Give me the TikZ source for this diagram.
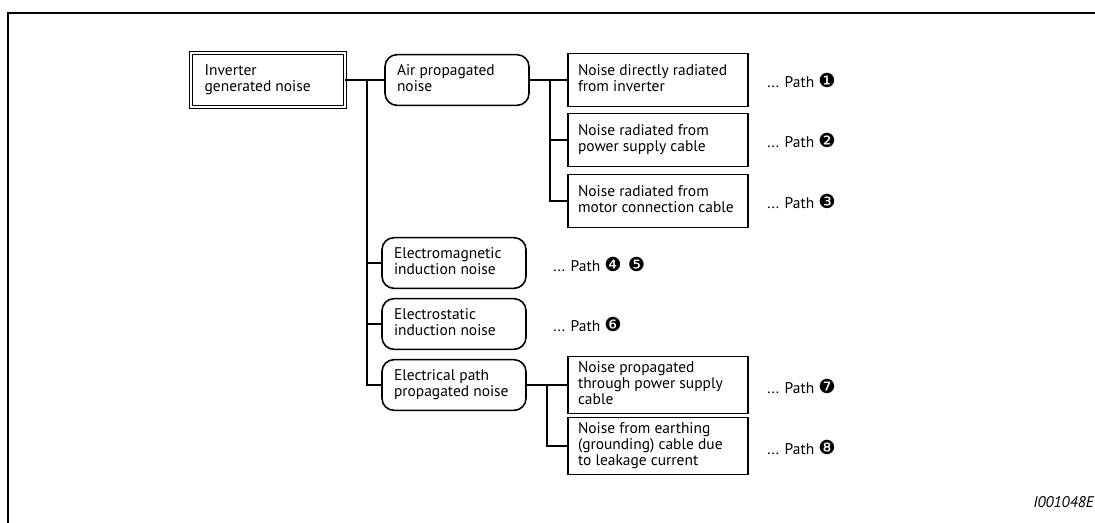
\documentclass[tikz,border=0pt]{standalone}
\usepackage{fontspec}
\setmainfont{PT Sans}
\newfontfamily\dingfont{DejaVu Sans}
\usepackage{tikz}

\newcommand{\boxtext}[2]{\makebox[#1][l]{\begin{tabular}{@{}l@{}}#2\end{tabular}}}
\newcommand{\pathref}[1]{... Path {\dingfont\fontsize{14.5}{12}\selectfont #1}}

\begin{document}
\begin{tikzpicture}[x=0.75pt,y=-0.75pt,
  every node/.style={font=\fontsize{11.6}{12}\selectfont},
  leaf/.style={draw,line width=1.2pt,inner xsep=7.5pt,minimum height=40pt},
  group/.style={draw,line width=1.2pt,rounded corners=9pt,inner xsep=9pt,minimum height=38pt},
  link/.style={line width=1.2pt},
  pathlbl/.style={anchor=west,inner sep=0pt}]
  \useasboundingbox (0,0) rectangle (1095,522);
  \draw[line width=2.2pt] (8,523) -- (8,13) -- (1096,13);

  % source
  \node[draw,double,double distance=1.4pt,line width=0.9pt,inner xsep=10pt,minimum height=41pt]
    (root) at (268,80) {\boxtext{95pt}{Inverter\\generated noise}};

  % kinds of noise
  \node[group] (air) at (457,80) {\boxtext{90pt}{Air propagated\\noise}};
  \node[group] (em) at (454,263) {\boxtext{90pt}{Electromagnetic\\induction noise}};
  \node[group] (es) at (454,324) {\boxtext{90pt}{Electrostatic\\induction noise}};
  \node[group] (el) at (454,385) {\boxtext{90pt}{Electrical path\\propagated noise}};

  % propagation paths
  \node[leaf] (l1) at (658,80) {\boxtext{120pt}{Noise directly radiated\\from inverter}};
  \node[leaf] (l2) at (658,140) {\boxtext{120pt}{Noise radiated from\\power supply cable}};
  \node[leaf] (l3) at (658,201) {\boxtext{120pt}{Noise radiated from\\motor connection cable}};
  \node[leaf] (l7) at (658,385) {\boxtext{120pt}{Noise propagated\\through power supply\\cable}};
  \node[leaf] (l8) at (658,446) {\boxtext{120pt}{Noise from earthing\\(grounding) cable due\\to leakage current}};

  \node[pathlbl] (p1) at (767,80) {\pathref{❶}};
  \node[pathlbl] (p2) at (767,140) {\pathref{❷}};
  \node[pathlbl] (p3) at (767,201) {\pathref{❸}};
  \node[pathlbl] (p45) at (553,264) {\pathref{❹ ❺}};
  \node[pathlbl] (p6) at (553,324) {\pathref{❻}};
  \node[pathlbl] (p7) at (767,386) {\pathref{❼}};
  \node[pathlbl] (p8) at (767,447) {\pathref{❽}};

  \node[anchor=base east,inner sep=0pt,font=\fontsize{11.6}{12}\selectfont\itshape] (code) at (1094,507) {I001048E};

  % tree lines
  \coordinate (trunk) at (367,80);
  \coordinate (airfork) at (550,80);
  \coordinate (elfork) at (547,385);
  \draw[link] (root.east) -- (air.west);
  \foreach \n in {em,es,el} \draw[link] (trunk) |- (\n.west);
  \draw[link] (air.east) -- (l1.west);
  \foreach \n in {l2,l3} \draw[link] (airfork) |- (\n.west);
  \draw[link] (el.east) -- (l7.west);
  \draw[link] (elfork) |- (l8.west);
\end{tikzpicture}
\end{document}
